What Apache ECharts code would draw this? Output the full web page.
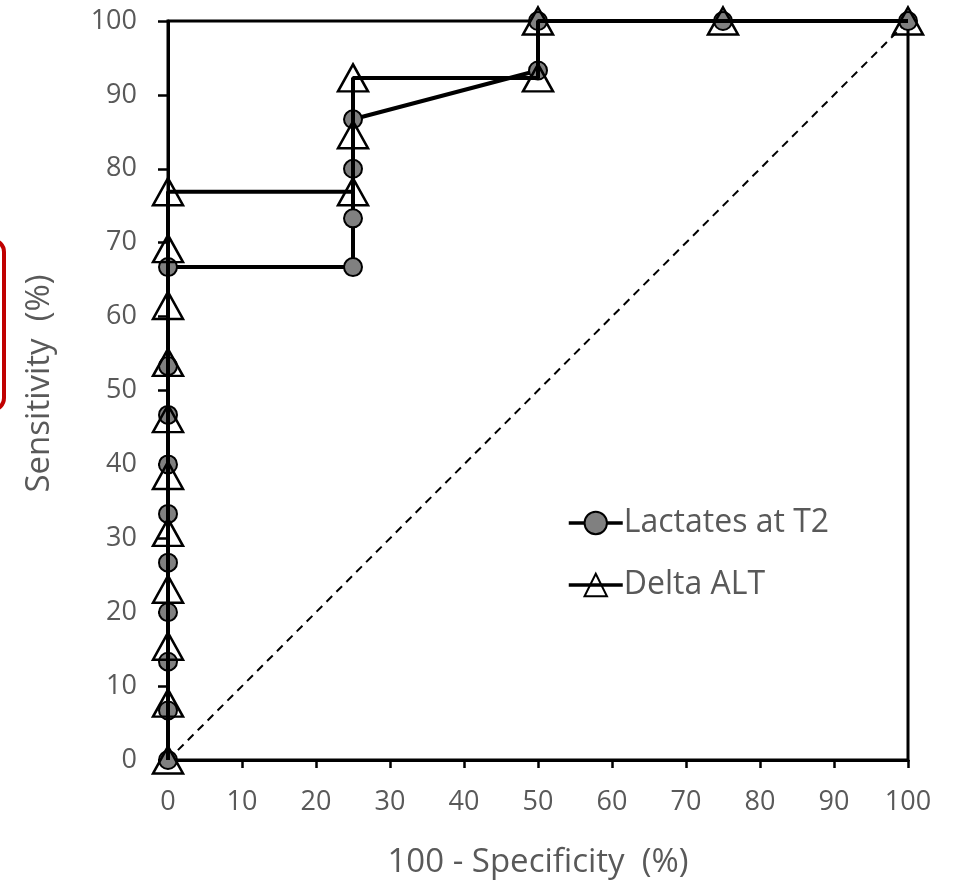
<!DOCTYPE html>
<html>
<head>
<meta charset="utf-8">
<script src="https://cdn.jsdelivr.net/npm/echarts@6/dist/echarts.min.js"></script>
<style>
  html, body { margin: 0; padding: 0; background: #fff; }
  #chart { width: 958px; height: 888px; }
</style>
</head>
<body>
<div id="chart"></div>
<script>
// ROC points, x = 100 - specificity (%), y = sensitivity (%)
const lactX = [0, 0, 0, 0, 0, 0, 0, 0, 0, 0, 25, 25, 25, 25, 50, 50, 75, 100];
const lactY = [0, 6.7, 13.3, 20, 26.7, 33.3, 40, 46.7, 53.3, 66.7, 66.7, 73.3, 80, 86.7, 93.3, 100, 100, 100];
const altX = [0, 0, 0, 0, 0, 0, 0, 0, 0, 0, 0, 25, 25, 25, 50, 50, 75, 100];
const altY = [0, 7.7, 15.4, 23.1, 30.8, 38.5, 46.2, 53.8, 61.5, 69.2, 76.9, 76.9, 84.6, 92.3, 92.3, 100, 100, 100];
const refX = [0, 100];
const refY = [0, 100];

const grey = '#595959';
const font = 'Open Sans';

const chart = echarts.init(document.getElementById('chart'));

function pairs(xs, ys) {
  return xs.map(function (x, i) { return [x, ys[i]]; });
}

var option = {
  backgroundColor: '#ffffff',
  animation: false,
  grid: {
    left: 168, top: 21, right: 50, bottom: 128,
    show: true, borderColor: '#000', borderWidth: 3
  },
  legend: {
    orient: 'vertical',
    left: 562, top: 502,
    itemWidth: 54, itemHeight: 28, itemGap: 30,
    data: ['Lactates at T2', 'Delta ALT'],
    lineStyle: { width: 3.5 },
    textStyle: { color: grey, fontSize: 32, fontFamily: font, padding: [0, 0, 0, -4] }
  },
  xAxis: {
    type: 'value', min: 0, max: 100, interval: 10,
    name: '100 - Specificity  (%)', nameLocation: 'middle', nameGap: 86,
    nameTextStyle: { color: grey, fontSize: 33, fontFamily: font },
    axisLine: { lineStyle: { color: '#000', width: 3 } },
    axisTick: { show: true, length: 8, lineStyle: { color: '#000', width: 2.5 } },
    axisLabel: { color: grey, fontSize: 27, fontFamily: font, margin: 29 },
    splitLine: { show: false }
  },
  yAxis: {
    type: 'value', min: 0, max: 100, interval: 10,
    name: 'Sensitivity  (%)', nameLocation: 'middle', nameGap: 112,
    nameTextStyle: { color: grey, fontSize: 33, fontFamily: font, padding: [0, 0, 0, 14] },
    axisLine: { lineStyle: { color: '#000', width: 3 } },
    axisTick: { show: true, length: 10, lineStyle: { color: '#000', width: 2.5 } },
    axisLabel: { color: grey, fontSize: 27, fontFamily: font, margin: 31 },
    splitLine: { show: false }
  },
  series: [
    {
      name: 'reference',
      type: 'line',
      data: pairs(refX, refY),
      symbol: 'none',
      silent: true,
      lineStyle: { color: '#000', width: 2, type: [8, 6] },
      z: 1
    },
    {
      name: 'Lactates at T2',
      type: 'line',
      data: pairs(lactX, lactY),
      symbol: 'circle',
      symbolSize: 18,
      lineStyle: { color: '#000', width: 4 },
      itemStyle: { color: '#808080', borderColor: '#000', borderWidth: 2 },
      z: 2
    },
    {
      name: 'Delta ALT',
      type: 'line',
      data: pairs(altX, altY),
      symbol: 'triangle',
      symbolSize: [30, 27],
      lineStyle: { color: '#000', width: 4 },
      itemStyle: { color: 'rgba(255,255,255,0)', borderColor: '#000', borderWidth: 2.5 },
      z: 3
    }
  ],
  graphic: [{
    type: 'rect',
    shape: { x: -30, y: 240, width: 34, height: 170, r: 12 },
    style: { fill: 'none', stroke: '#c00000', lineWidth: 4 }
  }]
};

chart.setOption(option);
</script>
</body>
</html>
